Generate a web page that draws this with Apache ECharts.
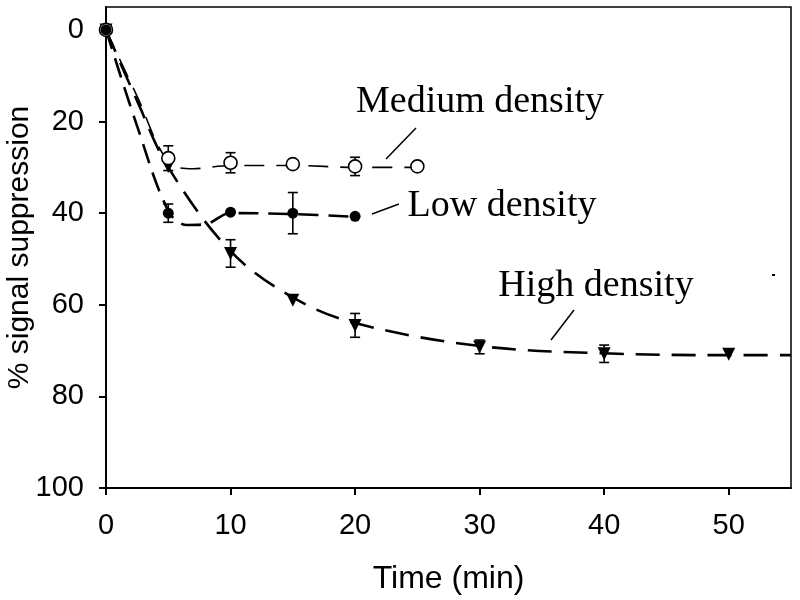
<!DOCTYPE html>
<html><head><meta charset="utf-8">
<script src="https://cdn.jsdelivr.net/npm/echarts@6/dist/echarts.min.js"></script>
<style>html,body{margin:0;padding:0;background:#fff}#c{width:800px;height:600px}</style>
</head><body><div id="c"></div>
<script>
// Measured points [time, % suppression]
const mediumPts = [[0,0],[5,28],[10,29],[15,29.3],[20,29.8],[25,29.8]];
const lowPts    = [[0,0],[5,40],[10,39.8],[15,40],[20,40.7]];
const highPts   = [[0,0],[5,29.8],[10,48.8],[15,59],[20,64.5],[30,69.2],[40,70.7],[50,70.8]];
// Error bars [time, value, +/- error]
const mediumErr = [[5,28,2.7],[10,29,2.2],[20,29.8,2]];
const lowErr    = [[5,40,2],[15,40,4.5]];
const highErr   = [[10,48.8,3],[20,64.5,2.6],[30,69.2,1.5],[40,70.7,1.9]];
// Fitted curves
const mediumFit = [[0,0],[2.5,14.5],[5,28.8],[7,30.3],[10,29.6],[15,29.6],[20,30],[25,30]];
const lowFit    = [[0,0],[2.5,21],[5,39.5],[6.5,42.6],[8,42.4],[10,40],[15,40.2],[20,40.8]];
const highFit   = [[0,0],[2.5,15.5],[5,30],[10,48.3],[15,58.4],[20,64],[30,69],[40,70.6],[50,71],[55,71]];
const xTicks = [0,10,20,30,40,50];
const yTicks = [0,20,40,60,80,100];

const chart = echarts.init(document.getElementById('c'));
const sans = 'Liberation Sans, Arial, sans-serif';
const serif = 'Liberation Serif, Times New Roman, serif';

function errSeries(data){
  return {
    type:'custom', data:data, z:4, silent:true,
    renderItem:function(params, api){
      const x=api.value(0), y=api.value(1), e=api.value(2);
      const p1=api.coord([x,y-e]), p2=api.coord([x,y+e]);
      const w=5;
      const st={stroke:'#000', lineWidth:1.6};
      return {type:'group', children:[
        {type:'line', shape:{x1:p1[0],y1:p1[1],x2:p2[0],y2:p2[1]}, style:st},
        {type:'line', shape:{x1:p1[0]-w,y1:p1[1],x2:p1[0]+w,y2:p1[1]}, style:st},
        {type:'line', shape:{x1:p2[0]-w,y1:p2[1],x2:p2[0]+w,y2:p2[1]}, style:st}
      ]};
    }
  };
}
function fitSeries(data, width, dash){
  return {type:'line', data:data, smooth:0.35, symbol:'none', z:2, silent:true,
    lineStyle:{color:'#000', width:width, type:dash}};
}

chart.setOption({
  animation:false,
  grid:{left:106, top:7, right:9, bottom:112, containLabel:false, outerBoundsMode:'none',
    show:true, borderColor:'#000', borderWidth:1.5, backgroundColor:'transparent'},
  xAxis:{type:'value', min:0, max:55,
    name:'Time (min)', nameLocation:'middle', nameGap:75, nameMoveOverlap:false,
    nameTextStyle:{fontFamily:sans, fontSize:32, color:'#000'},
    axisLine:{show:true, onZero:false, lineStyle:{color:'#000', width:2}},
    axisTick:{show:true, inside:false, length:7, customValues:xTicks, lineStyle:{color:'#000', width:2}},
    axisLabel:{customValues:xTicks, fontFamily:sans, fontSize:29, color:'#000', margin:23},
    splitLine:{show:false}},
  yAxis:{type:'value', inverse:true, min:-5, max:100,
    name:'% signal suppression', nameLocation:'middle', nameGap:71, nameRotate:90, nameMoveOverlap:false,
    nameTextStyle:{fontFamily:sans, fontSize:30, color:'#000'},
    axisLine:{show:true, onZero:false, lineStyle:{color:'#000', width:2}},
    axisTick:{show:true, inside:false, length:7, customValues:yTicks, lineStyle:{color:'#000', width:2}},
    axisLabel:{customValues:yTicks, fontFamily:sans, fontSize:29, color:'#000', margin:22},
    splitLine:{show:false}},
  series:[
    fitSeries(highFit, 2.6, [24,12]),
    fitSeries(lowFit, 2.6, [20,10]),
    fitSeries(mediumFit, 1.6, [20,12]),
    errSeries(mediumErr), errSeries(lowErr), errSeries(highErr),
    {type:'scatter', data:highPts, symbol:'triangle', symbolRotate:180, symbolSize:13, z:5,
      itemStyle:{color:'#000', opacity:1}},
    {type:'scatter', data:mediumPts, symbol:'circle', symbolSize:13, z:6,
      itemStyle:{color:'#fff', borderColor:'#000', borderWidth:1.6, opacity:1}},
    {type:'scatter', data:lowPts, symbol:'circle', symbolSize:11, z:7,
      itemStyle:{color:'#000', opacity:1}}
  ],
  graphic:[
    {type:'text', x:480, y:102, style:{text:'Medium density', font:'38px '+serif, fill:'#000', align:'center', verticalAlign:'middle'}},
    {type:'text', x:502, y:206, style:{text:'Low density', font:'38px '+serif, fill:'#000', align:'center', verticalAlign:'middle'}},
    {type:'text', x:596, y:286, style:{text:'High density', font:'38px '+serif, fill:'#000', align:'center', verticalAlign:'middle'}},
    {type:'line', shape:{x1:416,y1:128,x2:386,y2:159}, style:{stroke:'#000', lineWidth:1.5}},
    {type:'line', shape:{x1:399,y1:204,x2:372,y2:214}, style:{stroke:'#000', lineWidth:1.5}},
    {type:'line', shape:{x1:574,y1:310,x2:551,y2:340}, style:{stroke:'#000', lineWidth:1.5}},
    {type:'rect', shape:{x:772,y:274,width:3,height:2}, style:{fill:'#000'}}
  ]
});
</script></body></html>
